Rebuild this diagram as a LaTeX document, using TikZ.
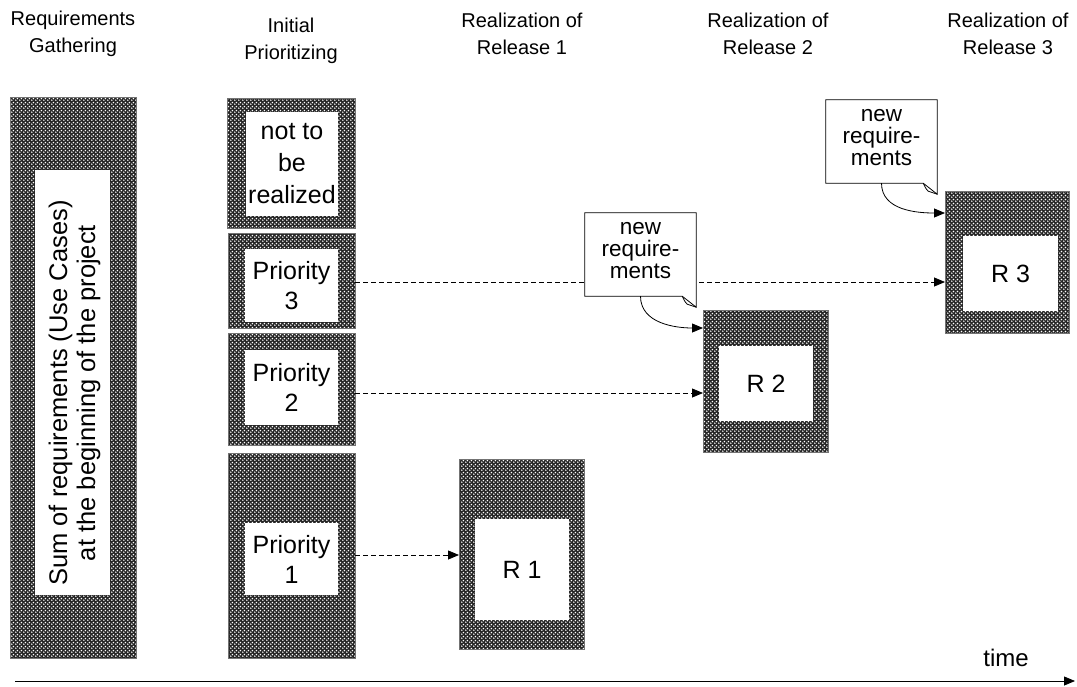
\documentclass[tikz,border=0pt]{standalone}
\usepackage{fontspec}
\setmainfont{Liberation Sans}
\usetikzlibrary{patterns,arrows.meta}
\pgfdeclarepatternformonly{bigdots}{\pgfpointorigin}{\pgfpoint{3.6pt}{3.6pt}}{\pgfpoint{3.6pt}{3.6pt}}{%
  \pgfpathcircle{\pgfpoint{0.9pt}{0.9pt}}{0.95pt}%
  \pgfpathcircle{\pgfpoint{2.7pt}{2.7pt}}{0.95pt}%
  \pgfusepath{fill}%
}
\begin{document}
\begin{tikzpicture}[x=1pt,y=-1pt,
  outerbox/.style={draw=black!55,line width=0.8pt,preaction={fill=black!85},pattern=bigdots,pattern color=white,inner sep=0pt,outer sep=0pt},
  innerbox/.style={fill=white,draw=none,inner sep=0pt,align=center,font=\fontsize{25}{30}\selectfont},
  header/.style={align=center,font=\fontsize{20}{26.5}\selectfont},
  notebox/.style={inner sep=0pt,align=center,font=\fontsize{22.5}{22}\selectfont},
  dasharrow/.style={line width=0.8pt,dash pattern=on 5pt off 3pt,-{Triangle[length=11pt,width=9pt]}},
  curvearrow/.style={line width=0.8pt,-{Triangle[length=11pt,width=9pt]}},
  notedraw/.style={line width=0.8pt,fill=white}
]
\useasboundingbox (0,0) rectangle (1077,686);
% headers
\node[header] (h1) at (73,34) {Requirements\\Gathering};
\node[header] (h2) at (291,41) {Initial\\Prioritizing};
\node[header] (h3) at (522,34) {Realization of\\Release 1};
\node[header] (h4) at (768,34) {Realization of\\Release 2};
\node[header] (h5) at (1008,34) {Realization of\\Release 3};
% requirements column
\node[outerbox,minimum width=126pt,minimum height=561pt] (req) at (73,377.5) {};
\node[innerbox,minimum width=75pt,minimum height=425pt] (reqi) at (72.5,382.5) {};
\node[font=\fontsize{25.5}{28}\selectfont,align=center,rotate=90] (reqt) at (74.5,393) {Sum of requirements (Use Cases)\\at the beginning of the project};
% prioritizing column
\node[outerbox,minimum width=128pt,minimum height=130pt] (nbr) at (291,163) {};
\node[innerbox,minimum width=92pt,minimum height=104pt,font=\fontsize{25}{32}\selectfont] (nbri) at (292,164) {not to\\be\\realized};
\node[outerbox,minimum width=127pt,minimum height=95pt] (p3) at (291.5,280.5) {};
\node[innerbox,minimum width=93pt,minimum height=73pt] (p3i) at (291.5,285.5) {Priority\\3};
\node[outerbox,minimum width=127pt,minimum height=112pt] (p2) at (291.5,389) {};
\node[innerbox,minimum width=93pt,minimum height=75pt] (p2i) at (291.5,387.5) {Priority\\2};
\node[outerbox,minimum width=127pt,minimum height=205pt] (p1) at (291.5,555.5) {};
\node[innerbox,minimum width=93pt,minimum height=72pt] (p1i) at (291.5,559) {Priority\\1};
% releases
\node[outerbox,minimum width=125pt,minimum height=190pt] (r1) at (521.5,554) {};
\node[innerbox,minimum width=94pt,minimum height=101pt] (r1i) at (522,569.5) {R 1};
\node[outerbox,minimum width=125pt,minimum height=142pt] (r2) at (765.5,381) {};
\node[innerbox,minimum width=94pt,minimum height=75pt] (r2i) at (766,383.5) {R 2};
\node[outerbox,minimum width=124pt,minimum height=142pt] (r3) at (1007,262) {};
\node[innerbox,minimum width=95pt,minimum height=75pt] (r3i) at (1010.5,273.5) {R 3};
% dashed arrows
\draw[dasharrow] (p1.east |- 0,555) -- (r1.west |- 0,555);
\draw[dasharrow] (p2.east |- 0,393) -- (r2.west |- 0,393);
\draw[dasharrow] (p3.east |- 0,282) -- (r3.west |- 0,282);
% notes
\node[notebox,minimum width=111pt,minimum height=83pt] (n1) at (640.5,254.5) {};
\draw[notedraw] (n1.north west) -- (n1.north east) -- ([yshift=-11pt]n1.south east) -- ([xshift=-14pt]n1.south east) -- (n1.south west) -- cycle;
\draw[line width=0.8pt] ([xshift=-14pt]n1.south east) .. controls ([xshift=-11pt,yshift=-6pt]n1.south east) .. ([xshift=-9pt,yshift=-8pt]n1.south east) -- ([yshift=-11pt]n1.south east);
\node[notebox] (n1t) at (640.5,251) {new\\require-\\ments};
\node[notebox,minimum width=111pt,minimum height=83pt] (n2) at (881.5,141.5) {};
\draw[notedraw] (n2.north west) -- (n2.north east) -- ([yshift=-11pt]n2.south east) -- ([xshift=-14pt]n2.south east) -- (n2.south west) -- cycle;
\draw[line width=0.8pt] ([xshift=-14pt]n2.south east) .. controls ([xshift=-11pt,yshift=-6pt]n2.south east) .. ([xshift=-9pt,yshift=-8pt]n2.south east) -- ([yshift=-11pt]n2.south east);
\node[notebox] (n2t) at (881.5,138) {new\\require-\\ments};
\draw[curvearrow] (n1.south) to[out=-90,in=180] (r2.west |- 0,328);
\draw[curvearrow] (n2.south) to[out=-90,in=180] (r3.west |- 0,213);
% time axis
\coordinate (t0) at (15,681);
\coordinate (t1) at (1075,681);
\draw[line width=0.8pt,-{Triangle[length=11pt,width=9pt]}] (t0) -- (t1);
\node[font=\fontsize{24}{27}\selectfont] (time) at (1006,658) {time};
\end{tikzpicture}
\end{document}
